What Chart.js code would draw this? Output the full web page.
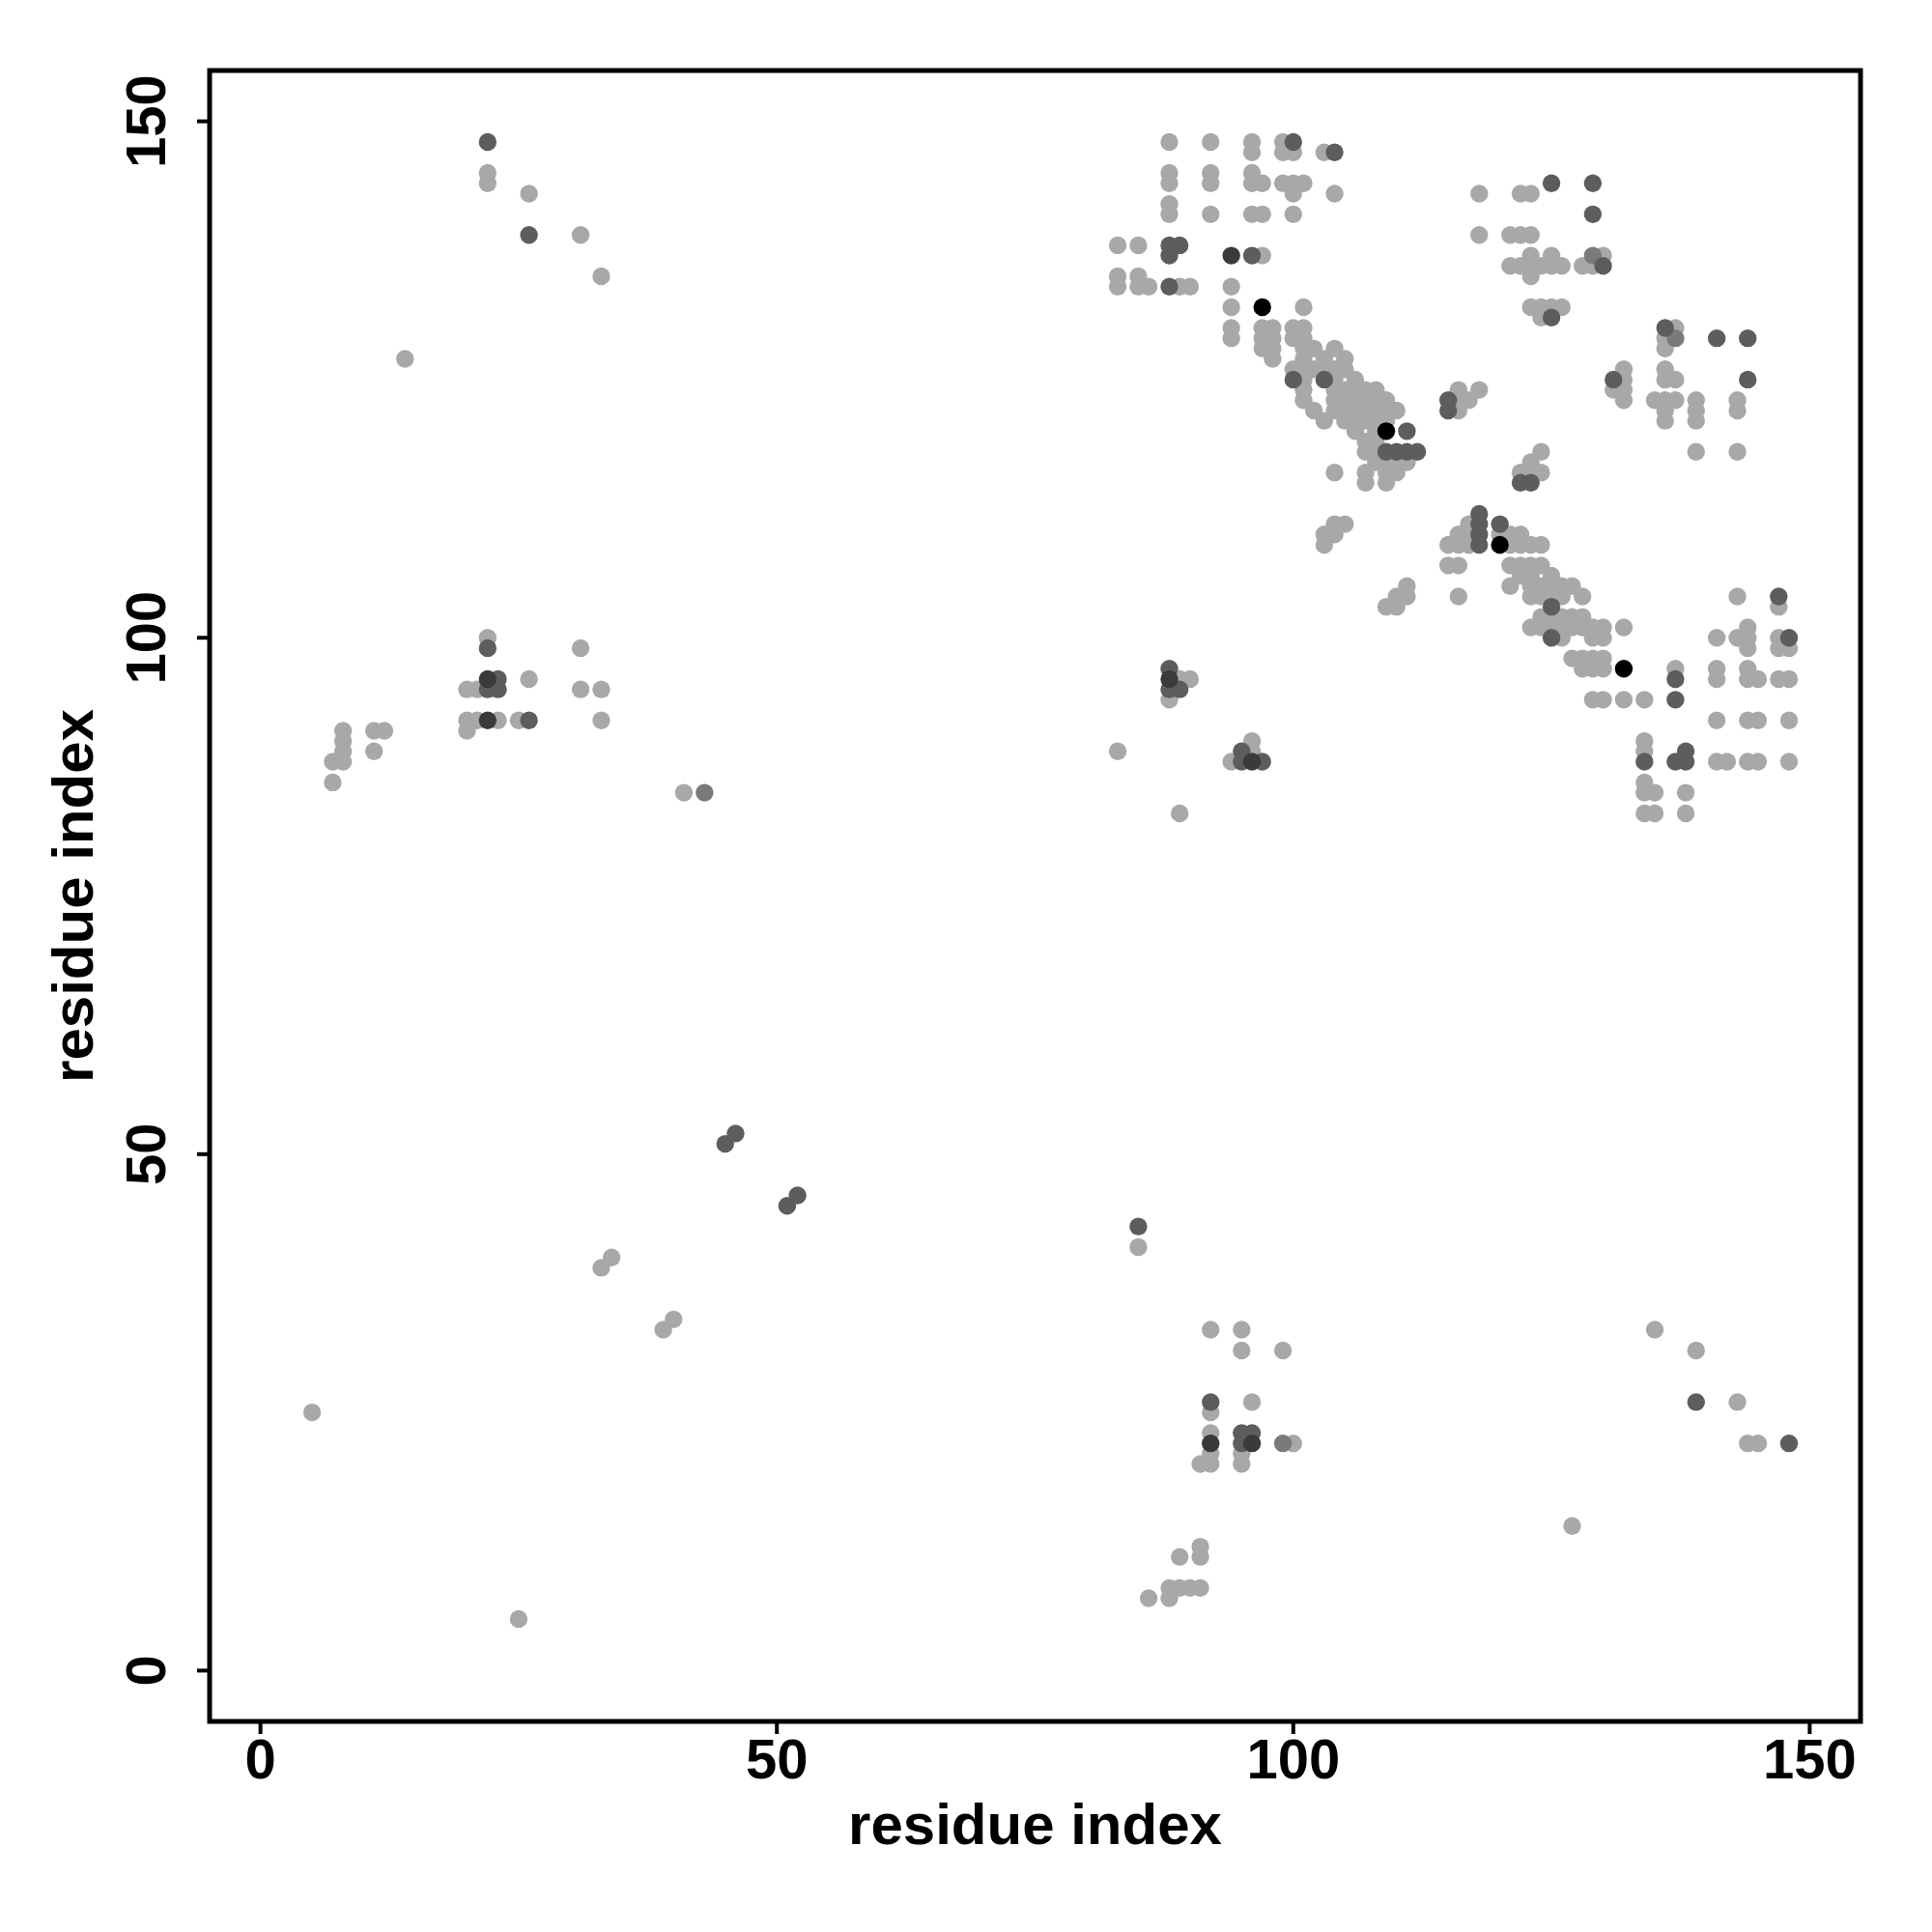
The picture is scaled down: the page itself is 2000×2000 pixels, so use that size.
<!DOCTYPE html>
<html>
<head>
<meta charset="utf-8">
<script src="https://cdn.jsdelivr.net/npm/chart.js@4.4.0/dist/chart.umd.min.js"></script>
<style>
html, body { margin: 0; padding: 0; background: #fff; }
canvas { display: block; }
</style>
</head>
<body>
<canvas id="myChart" width="2000" height="2000" style="width:2000px;height:2000px"></canvas>
<script>
// contact pairs [i, j], grouped by grey level
const lightContacts = [
    [22,145],[22,144],[26,143],[31,139],[33,135],[14,127],
    [22,100],[31,99],[26,96],[20,95],[21,95],[31,95],[33,95],[20,92],[21,92],[23,92],[25,92],[33,92],[20,91],
    [8,91],[8,90],[8,89],[8,88],[7,88],[7,86],[11,91],[12,91],[11,89],[41,85],
    [33,39],[34,40],[39,33],[40,34],[5,25],[25,5],[85,41],[127,14],[83,89],[89,83],
    [89,96],[90,96],[88,94],[96,90],[96,89],[94,88],
    [92,33],[95,33],[95,31],[99,31],[92,25],[96,26],[92,23],[92,21],[92,20],[91,20],[95,21],[95,20],[100,22],
    [91,12],[91,11],[89,11],[88,8],[89,8],[90,8],[91,8],[86,7],[88,7],
    [135,33],[139,31],[143,26],[144,22],[145,22],
    [88,148],[92,148],[96,148],[99,148],[96,147],[99,147],[100,147],[103,147],
    [88,145],[92,145],[96,145],[88,144],[92,144],[96,144],[97,144],[99,144],[100,144],[101,144],[100,143],[104,143],
    [88,142],[88,141],[92,141],[96,141],[97,141],[100,141],
    [83,138],[85,138],[97,137],[83,135],[85,135],[83,134],[85,134],[86,134],[89,134],[90,134],[94,134],
    [94,132],[101,132],[94,130],[97,130],[98,130],[100,130],[101,130],[94,129],[97,129],[98,129],[100,129],[101,129],
    [97,128],[98,128],[101,128],[102,128],[104,128],[98,127],[101,127],[103,127],[105,127],
    [100,126],[101,126],[103,126],[105,126],[101,125],[104,125],[106,125],[101,124],[104,124],[105,124],[107,124],
    [101,123],[104,123],[105,123],[106,123],[102,122],[104,122],[105,122],[106,122],[103,121],[105,121],[106,121],
    [106,120],[108,120],[107,119],[108,119],[107,118],[108,118],[108,117],
    [102,126],[104,126],[106,124],[108,124],[108,123],[108,122],[108,121],
    [118,143],[122,143],[123,143],[118,139],[121,139],[122,139],[123,139],[123,137],[125,137],[130,137],
    [121,136],[122,136],[123,136],[124,136],[125,136],[126,136],[128,136],[129,136],[123,135],
    [123,132],[124,132],[125,132],[126,132],[124,131],
    [132,126],[132,125],[132,124],[131,124],[132,123],[116,124],[118,124],[116,123],[117,123],[116,122],
    [137,130],[136,129],[136,128],[136,126],[136,125],[137,125],[135,123],[136,123],[137,123],[139,123],[143,123],
    [136,122],[136,121],[139,122],[139,121],[143,122],[139,118],[143,118],
    [143,104],[147,103],[141,100],[143,100],[144,100],[147,100],[144,101],[144,99],[147,99],[148,99],
    [137,97],[141,97],[144,97],[141,96],[144,96],[145,96],[147,96],[148,96],[134,94],
    [141,92],[144,92],[145,92],[148,92],[134,90],[134,89],[141,88],[142,88],[144,88],[145,88],[148,88],
    [134,86],[134,85],[135,85],[138,85],[134,83],[135,83],[138,83],
    [107,123],[107,122],[107,121],[109,123],[109,122],[109,121],[110,122],[109,117],[110,117],[111,117],
    [107,116],[107,115],[109,116],[109,115],[110,116],
    [124,118],[123,117],[122,116],[123,116],[124,116],
    [117,111],[116,110],[117,110],[115,109],[116,109],[117,109],[120,110],[121,110],[122,110],
    [121,109],[122,109],[123,109],[124,109],[115,107],[116,107],[121,107],[122,107],[123,107],[124,107],
    [122,106],[123,106],[125,106],[121,105],[123,105],[124,105],[125,105],[126,105],[127,105],
    [123,104],[124,104],[125,104],[126,104],[128,104],[116,104],[111,105],[110,104],[111,104],[109,103],[110,103],
    [124,102],[125,102],[126,102],[127,102],[128,102],
    [123,101],[124,101],[125,101],[126,101],[127,101],[128,101],[129,101],[130,101],[132,101],
    [126,100],[129,100],[130,100],[127,98],[128,98],[129,98],[130,98],[128,97],[129,97],[130,97],
    [129,94],[130,94],[132,94],
    [104,116],[104,111],[105,111],[103,110],[104,110],[103,109]
];
const midContacts = [[43,85],[129,137],[137,129],[99,22]];
const darkContacts = [
    [22,148],[26,139],[22,99],[23,96],[22,95],[23,95],[26,92],[45,51],[46,52],[51,45],[52,46],[85,43],
    [100,148],[104,147],[88,138],[89,138],[88,137],[96,137],[88,134],[100,125],[103,125],
    [125,144],[129,144],[129,141],[130,136],[125,131],[131,125],[115,123],[115,122],
    [136,130],[141,129],[144,129],[144,125],
    [147,104],[148,100],[137,96],[137,94],[138,89],[134,88],[137,88],[138,88],
    [111,120],[109,118],[110,118],[111,118],[112,118],[122,115],[123,115],
    [118,112],[118,111],[118,110],[118,109],[120,111],[125,103],[125,100],
    [88,97],[88,95],[89,95],[95,89],[95,88],[97,88],
    [92,26],[95,23],[96,23],[95,22],[139,26],[148,22]
];
const darkerContacts = [[22,96],[22,92],[94,137],[88,96],[96,88],[92,22],[96,22]];
const blackContacts = [[97,132],[109,120],[120,109],[132,97]];

const tickValues = [0, 50, 100, 150];
const axisTitle = 'residue index';

function toPoints(pairs) {
    return pairs.map(p => ({ x: p[0], y: p[1] }));
}

function makeSet(pairs, colour) {
    return {
        data: toPoints(pairs),
        backgroundColor: colour,
        borderWidth: 0,
        pointRadius: 9.2,
        pointHoverRadius: 9.2
    };
}

// box, ticks and tick labels drawn the way base R does them
const frame = {
    id: 'frame',
    afterDraw(chart) {
        const ctx = chart.ctx;
        const a = chart.chartArea;
        const xs = chart.scales.x;
        const ys = chart.scales.y;
        ctx.save();
        ctx.strokeStyle = '#000';
        ctx.lineWidth = 5;
        ctx.strokeRect(a.left, a.top, a.right - a.left, a.bottom - a.top);
        ctx.lineWidth = 4;
        ctx.fillStyle = '#000';
        ctx.font = 'bold 58px "Liberation Sans", Arial, sans-serif';
        ctx.textAlign = 'center';
        ctx.textBaseline = 'alphabetic';
        tickValues.forEach(v => {
            const px = xs.getPixelForValue(v);
            ctx.beginPath();
            ctx.moveTo(px, a.bottom);
            ctx.lineTo(px, a.bottom + 13);
            ctx.stroke();
            ctx.fillText(String(v), px, 1841);

            const py = ys.getPixelForValue(v);
            ctx.beginPath();
            ctx.moveTo(a.left, py);
            ctx.lineTo(a.left - 13, py);
            ctx.stroke();
            ctx.save();
            ctx.translate(171, py);
            ctx.rotate(-Math.PI / 2);
            ctx.fillText(String(v), 0, 0);
            ctx.restore();
        });
        ctx.restore();
    }
};

const titleFont = { family: '"Liberation Sans", Arial, sans-serif', size: 60, weight: 'bold', lineHeight: 1 };

var ctx = document.getElementById('myChart').getContext('2d');
var myChart = new Chart(ctx, {
    type: 'scatter',
    data: {
        datasets: [
            makeSet(blackContacts, '#000000'),
            makeSet(darkerContacts, '#3a3a3a'),
            makeSet(darkContacts, '#5d5d5d'),
            makeSet(midContacts, '#7a7a7a'),
            makeSet(lightContacts, '#a8a8a8')
        ]
    },
    options: {
        responsive: false,
        animation: false,
        events: [],
        layout: { padding: { top: 73, right: 74, left: 0, bottom: 0 } },
        plugins: {
            legend: { display: false },
            tooltip: { enabled: false }
        },
        scales: {
            x: {
                type: 'linear',
                min: -4.92,
                max: 154.92,
                grid: { display: false },
                border: { display: false },
                ticks: { display: false },
                afterFit: s => { s.height = 218; },
                title: { display: true, text: axisTitle, color: '#000', font: titleFont, padding: { top: 0, bottom: 78 } }
            },
            y: {
                type: 'linear',
                min: -4.92,
                max: 154.92,
                grid: { display: false },
                border: { display: false },
                ticks: { display: false },
                afterFit: s => { s.width = 217; },
                title: { display: true, text: axisTitle, color: '#000', font: titleFont, padding: { top: 49, bottom: 0 } }
            }
        }
    },
    plugins: [frame]
});
</script>
</body>
</html>
